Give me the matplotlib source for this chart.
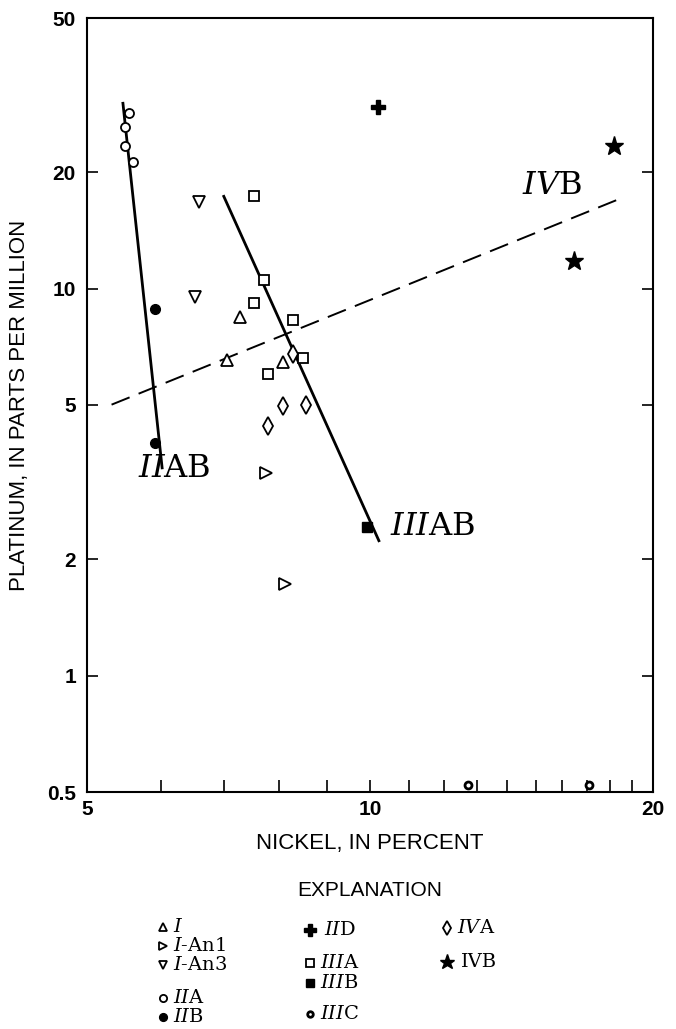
import matplotlib
matplotlib.use('Agg')
import matplotlib.pyplot as plt
from matplotlib.ticker import FixedLocator, NullFormatter, FixedFormatter

plt.rcParams['mathtext.fontset'] = 'custom'
plt.rcParams['mathtext.rm'] = 'DejaVu Serif'
plt.rcParams['mathtext.it'] = 'DejaVu Serif:italic'

# ---------------- data (nickel %, platinum ppm) ----------------
I_ni = [7.27, 7.04, 8.08]
I_pt = [8.44, 6.52, 6.45]
IAn1_ni = [7.75, 8.12]
IAn1_pt = [3.34, 1.72]
IAn3_ni = [6.58, 6.51]
IAn3_pt = [16.7, 9.49]
IIA_ni = [5.54, 5.49, 5.49, 5.60]
IIA_pt = [28.4, 26.1, 23.4, 21.2]
IIB_ni = [5.90, 5.90]
IIB_pt = [8.84, 3.99]
IID_ni = [10.2]
IID_pt = [29.4]
IIIA_ni = [7.53, 7.71, 7.53, 8.28, 8.48, 7.79]
IIIA_pt = [17.3, 10.5, 9.16, 8.29, 6.63, 6.01]
IIIB_ni = [9.93]
IIIB_pt = [2.42]
IIIC_ni = [12.7, 17.1]
IIIC_pt = [0.52, 0.52]
IVA_ni = [8.28, 8.08, 8.55, 7.79]
IVA_pt = [6.79, 4.98, 5.01, 4.40]
IVB_ni = [18.2, 16.5]
IVB_pt = [23.4, 11.8]

# trend lines
IIAB_line_ni = [5.46, 6.01]
IIAB_line_pt = [30.1, 3.44]
IIIAB_line_ni = [6.99, 10.22]
IIIAB_line_pt = [17.3, 2.23]
IVB_line_ni = [5.31, 18.6]
IVB_line_pt = [5.01, 17.2]

x_ticks = [5, 10, 20]
x_minor = [6, 7, 8, 9, 11, 12, 13, 14, 15, 16, 17, 18, 19]
y_ticks = [0.5, 1, 2, 5, 10, 20, 50]
y_labels = ['0.5', '1', '2', '5', '10', '20', '50']

W, H = 676, 1029
fig = plt.figure(figsize=(W / 100, H / 100), dpi=100)
ax = fig.add_axes([87 / W, 1 - 792 / H, (653 - 87) / W, (792 - 18) / H])
ax.set_xscale('log')
ax.set_yscale('log')
ax.set_xlim(5, 20)
ax.set_ylim(0.5, 50)

mk_open = dict(linestyle='none', markerfacecolor='white', markeredgecolor='black',
               markeredgewidth=1.3, color='black')
mk_fill = dict(linestyle='none', markerfacecolor='black', markeredgecolor='black',
               markeredgewidth=1.0, color='black')

styles = {
    'I': dict(marker='^', markersize=8, **mk_open),
    'IAn1': dict(marker='>', markersize=8, **mk_open),
    'IAn3': dict(marker='v', markersize=8, **mk_open),
    'IIA': dict(marker='o', markersize=6.5, **mk_open),
    'IIB': dict(marker='o', markersize=7, **mk_fill),
    'IID': dict(marker='P', markersize=10, **mk_fill),
    'IIIA': dict(marker='s', markersize=7, **mk_open),
    'IIIB': dict(marker='s', markersize=7, **mk_fill),
    'IIIC': dict(marker='o', markersize=5, linestyle='none', markerfacecolor='white',
                 markeredgecolor='black', markeredgewidth=2.0, color='black'),
    'IVA': dict(marker='d', markersize=9, **mk_open),
    'IVB': dict(marker='*', markersize=14, **mk_fill),
}

ax.plot(IIAB_line_ni, IIAB_line_pt, color='black', lw=2.0, zorder=2)
ax.plot(IIIAB_line_ni, IIIAB_line_pt, color='black', lw=2.0, zorder=2)
ax.plot(IVB_line_ni, IVB_line_pt, color='black', lw=1.4, dashes=(10, 5), zorder=2)

ax.plot(I_ni, I_pt, zorder=3, **styles['I'])
ax.plot(IAn1_ni, IAn1_pt, zorder=3, **styles['IAn1'])
ax.plot(IAn3_ni, IAn3_pt, zorder=3, **styles['IAn3'])
ax.plot(IIA_ni, IIA_pt, zorder=3, **styles['IIA'])
ax.plot(IIB_ni, IIB_pt, zorder=3, **styles['IIB'])
ax.plot(IID_ni, IID_pt, zorder=3, **styles['IID'])
ax.plot(IIIA_ni, IIIA_pt, zorder=3, **styles['IIIA'])
ax.plot(IIIB_ni, IIIB_pt, zorder=3, **styles['IIIB'])
ax.plot(IIIC_ni, IIIC_pt, zorder=3, clip_on=False, **styles['IIIC'])
ax.plot(IVA_ni, IVA_pt, zorder=3, **styles['IVA'])
ax.plot(IVB_ni, IVB_pt, zorder=3, **styles['IVB'])

lbl_kw = dict(fontsize=23, family='DejaVu Serif', color='black')
ax.text(5.66, 3.42, r'$\mathit{II}$AB', va='center', ha='left', **lbl_kw)
ax.text(10.5, 2.42, r'$\mathit{III}$AB', va='center', ha='left', **lbl_kw)
ax.text(14.5, 18.5, r'$\mathit{IV}$B', va='center', ha='left', **lbl_kw)

# axes styling
for s in ax.spines.values():
    s.set_linewidth(1.5)
ax.xaxis.set_major_locator(FixedLocator(x_ticks))
ax.xaxis.set_major_formatter(FixedFormatter([str(v) for v in x_ticks]))
ax.xaxis.set_minor_locator(FixedLocator(x_minor))
ax.xaxis.set_minor_formatter(NullFormatter())
ax.yaxis.set_major_locator(FixedLocator(y_ticks))
ax.yaxis.set_major_formatter(FixedFormatter(y_labels))
ax.yaxis.set_minor_locator(FixedLocator([]))
ax.tick_params(axis='both', which='both', direction='in', top=False, right=True,
               width=1.2, colors='black')
ax.tick_params(axis='x', which='both', length=9, pad=6)
ax.tick_params(axis='y', which='major', length=8, pad=8)
for t in ax.get_xticklabels() + ax.get_yticklabels():
    t.set_fontfamily('Liberation Sans')
    t.set_fontweight('bold')
    t.set_fontsize(15)

ax.set_xlabel('NICKEL, IN PERCENT', fontsize=16, family='Liberation Sans', labelpad=10)
ax.set_ylabel('PLATINUM, IN PARTS PER MILLION', fontsize=16, family='Liberation Sans',
              labelpad=12)

# ---------------- explanation (legend) ----------------
lax = fig.add_axes([0, 0, 1, 1], zorder=-1)
lax.set_xlim(0, W)
lax.set_ylim(H, 0)
lax.axis('off')
lax.text(370, 890, 'EXPLANATION', fontsize=15, family='Liberation Sans',
         ha='center', va='center')

leg_kw = dict(fontsize=14, family='DejaVu Serif', va='center', ha='left')
legend_items = [
    ('I', 163, 927, r'$\mathit{I}$'),
    ('IAn1', 163, 946, r'$\mathit{I}$-An1'),
    ('IAn3', 163, 965, r'$\mathit{I}$-An3'),
    ('IIA', 163, 998, r'$\mathit{II}$A'),
    ('IIB', 163, 1017, r'$\mathit{II}$B'),
    ('IID', 310, 930, r'$\mathit{II}$D'),
    ('IIIA', 310, 963, r'$\mathit{III}$A'),
    ('IIIB', 310, 983, r'$\mathit{III}$B'),
    ('IIIC', 310, 1014, r'$\mathit{III}$C'),
    ('IVA', 447, 928, r'$\mathit{IV}$A'),
    ('IVB', 447, 962, 'IVB'),
]
for key, lx, ly, txt in legend_items:
    st = dict(styles[key])
    ms = st.pop('markersize')
    lax.plot([lx], [ly], markersize=ms * 0.8, clip_on=False, **st)
    off = 14 if key in ('IID', 'IVB') else 10
    lax.text(lx + off, ly, txt, **leg_kw)

fig.savefig('out.png', dpi=100)
